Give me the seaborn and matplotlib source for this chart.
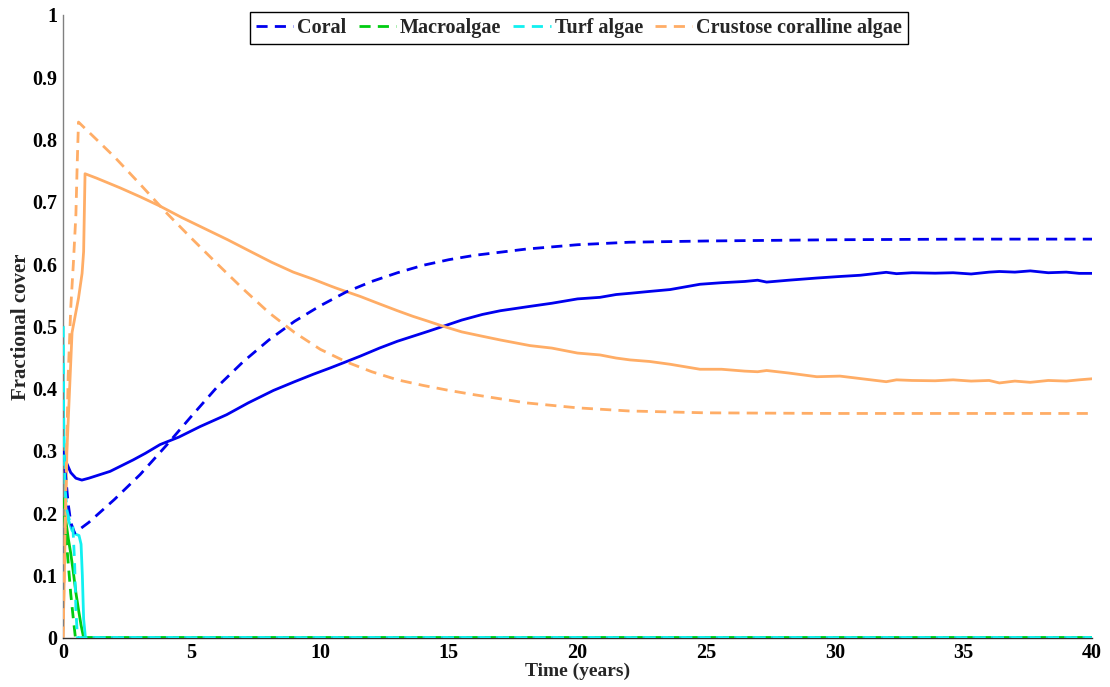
import numpy as np
import pandas as pd
import seaborn as sns
import matplotlib
matplotlib.use("Agg")
import matplotlib.pyplot as plt
from matplotlib.ticker import FuncFormatter

# ---- Mean-field model (dashed) ----
t_coral_mf = [0, 0.1, 0.2, 0.3, 0.45, 1, 2, 3, 4, 5, 6, 7, 8, 9, 10, 11, 12, 13,
              14, 15, 16, 18, 20, 22, 25, 30, 35, 40]
coral_mf = [0.30, 0.26, 0.215, 0.185, 0.168, 0.185, 0.222, 0.262, 0.308, 0.356,
            0.403, 0.443, 0.478, 0.508, 0.533, 0.555, 0.572, 0.586, 0.598, 0.607,
            0.614, 0.624, 0.631, 0.635, 0.637, 0.639, 0.64, 0.64]

t_macro_mf = [0, 0.1, 0.2, 0.3, 0.4, 0.48, 1, 40]
macro_mf = [0.225, 0.17, 0.12, 0.07, 0.03, 0.0, 0.0, 0.0]

t_turf_mf = [0, 0.03, 0.08, 0.15, 0.25, 0.38, 0.45, 0.5, 0.56, 1, 40]
turf_mf = [0.5, 0.33, 0.24, 0.205, 0.188, 0.18, 0.12, 0.045, 0.0, 0.0, 0.0]

t_cca_mf = [0, 0.1, 0.2, 0.3, 0.4, 0.5, 0.55, 0.6, 1, 2, 3, 4, 5, 6, 7, 8, 9,
            10, 11, 12, 13, 14, 15, 16, 18, 20, 22, 25, 30, 40]
cca_mf = [0.0, 0.22, 0.42, 0.53, 0.6, 0.68, 0.76, 0.828, 0.812, 0.772, 0.728,
          0.683, 0.641, 0.6, 0.56, 0.522, 0.49, 0.463, 0.443, 0.427, 0.414,
          0.405, 0.397, 0.39, 0.377, 0.369, 0.364, 0.361, 0.36, 0.36]

# ---- Stochastic simulation (solid) ----
t_coral_sim = [0, 0.1, 0.3, 0.5, 0.73, 1, 1.83, 2.73, 3.2, 3.77, 4.5, 5.33, 6.36,
               7.2, 8.18, 9.0, 9.73, 10.38, 11.0, 11.55, 12.3, 13.0, 13.6, 14.2,
               14.78, 15.5, 16.3, 17.0, 18.15, 19.0, 20.0, 20.87, 21.5, 22.04,
               22.8, 23.6, 24.76, 25.6, 26.5, 27.0, 27.35, 28.2, 29.3, 30.2, 31.0,
               32.0, 32.4, 33.0, 33.9, 34.6, 35.3, 36.0, 36.4, 37.0, 37.6, 38.3,
               39.0, 39.5, 40]
coral_sim = [0.30, 0.284, 0.265, 0.256, 0.253, 0.256, 0.267, 0.2855, 0.296, 0.31,
             0.322, 0.339, 0.358, 0.377, 0.397, 0.411, 0.423, 0.433, 0.443,
             0.452, 0.465, 0.476, 0.484, 0.492, 0.5, 0.51, 0.519, 0.525, 0.532,
             0.537, 0.544, 0.5465, 0.551, 0.553, 0.556, 0.559, 0.5675, 0.57,
             0.572, 0.574, 0.571, 0.574, 0.5775, 0.58, 0.582, 0.5867, 0.5845,
             0.586, 0.5853, 0.586, 0.584, 0.587, 0.588, 0.587, 0.589, 0.586,
             0.587, 0.585, 0.585]

t_macro_sim = [0, 0.1, 0.2, 0.3, 0.4, 0.5, 0.6, 0.7, 0.8, 1, 40]
macro_sim = [0.225, 0.19, 0.16, 0.135, 0.105, 0.072, 0.045, 0.02, 0.0, 0.0, 0.0]

t_turf_sim = [0, 0.02, 0.05, 0.1, 0.2, 0.35, 0.5, 0.62, 0.7, 0.75, 0.8, 0.87, 1, 40]
turf_sim = [0.5, 0.36, 0.26, 0.215, 0.19, 0.172, 0.166, 0.164, 0.15, 0.1, 0.03,
            0.0, 0.0, 0.0]

t_cca_sim = [0, 0.15, 0.35, 0.6, 0.74, 0.8, 0.855, 1.3, 2.22, 3.0, 3.77, 4.6,
             5.45, 6.4, 7.27, 8.1, 8.95, 9.7, 10.38, 10.64, 11.55, 12.3, 13.0,
             13.6, 14.2, 14.78, 15.5, 16.3, 17.0, 18.15, 19.0, 20.0, 20.87, 21.5,
             22.04, 22.8, 23.6, 24.76, 25.6, 26.5, 27.0, 27.35, 28.2, 29.3, 30.2,
             31.0, 32.0, 32.4, 33.0, 33.9, 34.6, 35.3, 36.0, 36.4, 37.0, 37.6,
             38.3, 39.0, 39.5, 40]
cca_sim = [0.0, 0.3, 0.49, 0.545, 0.585, 0.62, 0.745, 0.738, 0.7223, 0.708,
           0.693, 0.675, 0.658, 0.639, 0.6205, 0.603, 0.587, 0.576, 0.565,
           0.561, 0.548, 0.536, 0.525, 0.516, 0.508, 0.5, 0.491, 0.484, 0.478,
           0.469, 0.465, 0.457, 0.454, 0.449, 0.446, 0.4435, 0.439, 0.431, 0.431,
           0.428, 0.427, 0.429, 0.425, 0.419, 0.42, 0.416, 0.411, 0.414, 0.413,
           0.4125, 0.414, 0.412, 0.413, 0.409, 0.412, 0.41, 0.413, 0.412, 0.414,
           0.4157]

labels = ["Coral", "Macroalgae", "Turf algae", "Crustose coralline algae"]
colors = ["#0000EE", "#00CC11", "#11F0F0", "#FFAD66"]

sim_series = [(t_coral_sim, coral_sim), (t_macro_sim, macro_sim),
              (t_turf_sim, turf_sim), (t_cca_sim, cca_sim)]
mf_series = [(t_coral_mf, coral_mf), (t_macro_mf, macro_mf),
             (t_turf_mf, turf_mf), (t_cca_mf, cca_mf)]

sns.set_style("white")
plt.rcParams["font.family"] = ["Liberation Serif", "DejaVu Serif"]
plt.rcParams["font.weight"] = "bold"

fig = plt.figure(figsize=(11.1, 6.87), dpi=100)
ax = fig.add_axes([0.0568, 0.0719, 0.927, 0.9063])

# solid lines: stochastic simulation
for (t, y), c in zip(sim_series, colors):
    df = pd.DataFrame({"t": t, "y": y})
    sns.lineplot(data=df, x="t", y="y", ax=ax, color=c, linewidth=2.0,
                 estimator=None, sort=False, zorder=2)

# dashed lines: mean-field model
handles = []
for (t, y), c, lab in zip(mf_series, colors, labels):
    df = pd.DataFrame({"t": t, "y": y})
    sns.lineplot(data=df, x="t", y="y", ax=ax, color=c, linewidth=2.0,
                 estimator=None, sort=False, zorder=3)
    line = ax.lines[-1]
    line.set_dashes((4, 2.6))
    line.set_label(lab)
    handles.append(line)

ax.set_xlim(0, 40)
ax.set_ylim(0, 1)
ax.set_xticks(np.arange(0, 41, 5))
ax.set_yticks(np.arange(0, 1.01, 0.1))
ax.yaxis.set_major_formatter(FuncFormatter(lambda v, p: f"{v:g}"))
ax.tick_params(direction="in", length=7, width=1, colors="black",
               labelsize=14.5, top=False, right=False, pad=4)
for lab in ax.get_xticklabels() + ax.get_yticklabels():
    lab.set_fontweight("bold")

for side in ["top", "right"]:
    ax.spines[side].set_visible(False)
ax.spines["left"].set_color("#808080")
ax.spines["bottom"].set_color("#303030")
for side in ["left", "bottom"]:
    ax.spines[side].set_linewidth(1.0)

ax.set_xlabel("Time (years)", fontsize=14, fontweight="bold", labelpad=0)
ax.set_ylabel("Fractional cover", fontsize=15, fontweight="bold", labelpad=1)

leg = ax.legend(handles=handles, labels=labels, loc="upper center",
                bbox_to_anchor=(0.5015, 1.005), ncol=4, frameon=True,
                fancybox=False, edgecolor="black", framealpha=1,
                prop={"size": 14.5, "weight": "bold"}, handlelength=1.85,
                handletextpad=0.2, columnspacing=0.6, borderpad=0.3,
                borderaxespad=0)
leg.get_frame().set_linewidth(1.0)

fig.savefig("out.png", dpi=100)
